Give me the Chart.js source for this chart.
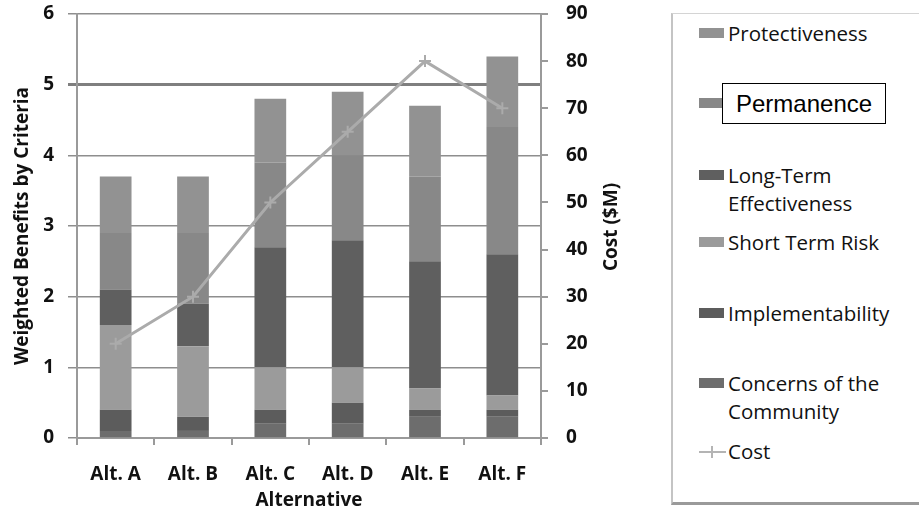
<!DOCTYPE html>
<html>
<head>
<meta charset="utf-8">
<script src="https://cdn.jsdelivr.net/npm/chart.js@4"></script>
<style>
  body { margin: 0; background: #fff; width: 919px; height: 521px; overflow: hidden; position: relative; font-family: 'Open Sans', sans-serif; }
  #wrap { position: absolute; left: 0; top: 0; width: 640px; height: 521px; }
  #costTitle { position: absolute; left: 610px; top: 227px; transform: translate(-50%, -50%) rotate(-90deg); font: bold 19px 'Open Sans'; color: #111; white-space: nowrap; }
  #legend { position: absolute; left: 671px; top: 13px; width: 260px; height: 488px; border-left: 2px solid #c4c4c4; border-top: 1px solid #d4d4d4; border-bottom: 3px solid #9a9a9a; }
  .item { position: absolute; left: 55px; font: 20.5px 'Open Sans'; color: #111; line-height: 28px; white-space: nowrap; }
  .sw { position: absolute; left: -29px; top: 9px; width: 25px; height: 10px; }
  .ln { position: absolute; left: -29px; top: 14px; width: 27px; height: 2px; background: #b4b4b4; }
  .ln::after { content: ''; position: absolute; left: 12px; top: -5px; width: 2px; height: 12px; background: #b4b4b4; }
  .boxed { position: absolute; left: -6px; top: -6px; padding: 6px 13px; border: 1px solid #000; background: #fff; font: 24px 'Liberation Sans'; color: #000; line-height: 27px; white-space: nowrap; }
</style>
</head>
<body>
<div id="wrap"><canvas id="chart" width="640" height="521"></canvas></div>
<div id="costTitle">Cost ($M)</div>
<div id="legend"></div>
<script>
// categories and values
const categories = ['Alt. A', 'Alt. B', 'Alt. C', 'Alt. D', 'Alt. E', 'Alt. F'];
const concerns = [0.1, 0.1, 0.2, 0.2, 0.3, 0.3];
const implementability = [0.3, 0.2, 0.2, 0.3, 0.1, 0.1];
const shortTermRisk = [1.2, 1.0, 0.6, 0.5, 0.3, 0.2];
const longTerm = [0.5, 0.6, 1.7, 1.8, 1.8, 2.0];
const permanence = [0.8, 1.0, 1.2, 1.2, 1.2, 1.8];
const protectiveness = [0.8, 0.8, 0.9, 0.9, 1.0, 1.0];
const cost = [20, 30, 50, 65, 80, 70];

const benefitTicks = [0, 1, 2, 3, 4, 5, 6];
const costTicks = [0, 10, 20, 30, 40, 50, 60, 70, 80, 90];

// stack order bottom -> top
const barSeries = [
  { label: 'Concerns of the Community', data: concerns, color: '#6d6d6d', legendTop: 355, lines: ['Concerns of the', 'Community'] },
  { label: 'Implementability', data: implementability, color: '#5c5c5c', legendTop: 285 },
  { label: 'Short Term Risk', data: shortTermRisk, color: '#9b9b9b', legendTop: 214 },
  { label: 'Long-Term Effectiveness', data: longTerm, color: '#5f5f5f', legendTop: 147, lines: ['Long-Term', 'Effectiveness'] },
  { label: 'Permanence', data: permanence, color: '#888888', legendTop: 75, boxed: true },
  { label: 'Protectiveness', data: protectiveness, color: '#929292', legendTop: 5 }
];

const tickFont = { family: 'Open Sans', size: 19, weight: 'bold' };

const datasets = [
  {
    type: 'line', label: 'Cost', data: cost, yAxisID: 'y1', order: 0,
    borderColor: '#ababab', borderWidth: 3, pointStyle: 'cross', pointRadius: 6,
    pointBorderColor: '#ababab', pointBorderWidth: 2, tension: 0, fill: false
  }
].concat(barSeries.map(s => ({
  type: 'bar', label: s.label, data: s.data, yAxisID: 'y', order: 1,
  backgroundColor: s.color, borderWidth: 0,
  categoryPercentage: 1, barPercentage: 0.41
})));

// vertical axes: fixed width, no extra label padding so the plot top sits at the layout padding
const fixVertical = w => s => { s.width = w; s.paddingTop = 0; s.paddingBottom = 0; };

const ctx = document.getElementById('chart').getContext('2d');
const chart = new Chart(ctx, {
  data: { labels: categories, datasets },
  options: {
    responsive: false,
    animation: false,
    layout: { padding: { top: 14, left: 0, right: 0, bottom: 0 } },
    plugins: { legend: { display: false }, tooltip: { enabled: false } },
    scales: {
      x: {
        stacked: true,
        grid: { drawOnChartArea: false, drawTicks: true, tickLength: 7, color: '#9a9a9a', lineWidth: 2 },
        border: { color: '#9a9a9a', width: 2 },
        ticks: { font: tickFont, color: '#111', padding: 18, maxRotation: 0 },
        title: { display: true, text: 'Alternative', font: tickFont, color: '#111', padding: { top: 0, bottom: 9 } },
        afterFit: s => { s.height = 83; s.paddingLeft = 0; s.paddingRight = 0; }
      },
      y: {
        stacked: true, min: 0, max: 6,
        afterBuildTicks: s => { s.ticks = benefitTicks.map(v => ({ value: v })); },
        grid: {
          tickLength: 9,
          color: c => c.tick && c.tick.value === 5 ? '#7f7f7f' : '#8e8e8e',
          lineWidth: c => c.tick && c.tick.value === 5 ? 3 : 1.5
        },
        border: { color: '#9a9a9a', width: 2 },
        ticks: { font: tickFont, color: '#111', padding: 14 },
        title: { display: true, text: 'Weighted Benefits by Criteria', font: tickFont, color: '#111', padding: { top: 11, bottom: 0 } },
        afterFit: fixVertical(77)
      },
      y1: {
        position: 'right', min: 0, max: 90,
        afterBuildTicks: s => { s.ticks = costTicks.map(v => ({ value: v })); },
        grid: { drawOnChartArea: false, tickLength: 7, color: '#9a9a9a', lineWidth: 2 },
        border: { color: '#9a9a9a', width: 2 },
        ticks: { font: tickFont, color: '#111', padding: 18 },
        afterFit: fixVertical(99)
      }
    }
  }
});

// legend built from the same series list
const legend = document.getElementById('legend');
barSeries.slice().reverse().forEach(s => {
  const item = document.createElement('div');
  item.className = 'item';
  item.style.top = s.legendTop + 'px';
  const sw = document.createElement('div');
  sw.className = 'sw';
  sw.style.background = s.color;
  item.appendChild(sw);
  if (s.boxed) {
    const b = document.createElement('span');
    b.className = 'boxed';
    b.textContent = s.label;
    item.appendChild(b);
    const spacer = document.createElement('div');
    spacer.innerHTML = '&nbsp;';
    item.appendChild(spacer);
  } else {
    (s.lines || [s.label]).forEach(t => {
      const l = document.createElement('div');
      l.textContent = t;
      item.appendChild(l);
    });
  }
  legend.appendChild(item);
});
const costItem = document.createElement('div');
costItem.className = 'item';
costItem.style.top = '423px';
costItem.innerHTML = '<div class="ln"></div>';
const costText = document.createElement('div');
costText.textContent = 'Cost';
costItem.appendChild(costText);
legend.appendChild(costItem);

window.charts = { chart };
</script>
</body>
</html>
